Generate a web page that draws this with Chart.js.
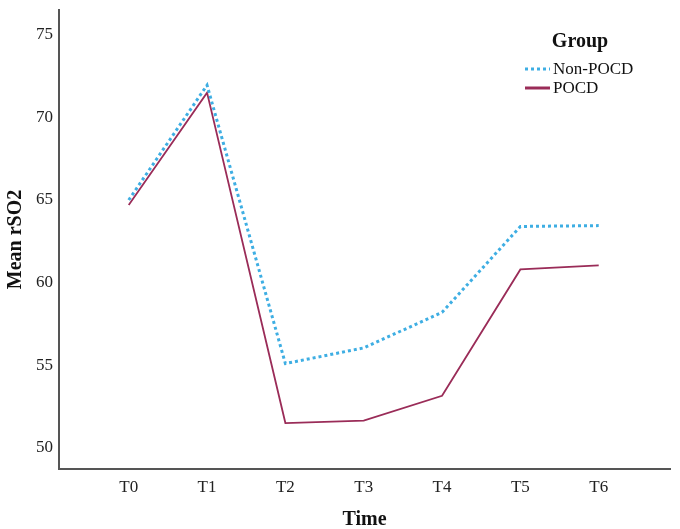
<!DOCTYPE html>
<html>
<head>
<meta charset="utf-8">
<script src="https://cdn.jsdelivr.net/npm/chart.js@4"></script>
<style>
  html, body { margin: 0; padding: 0; background: #fff; }
  #wrap { width: 680px; height: 529px; }
</style>
</head>
<body>
<div id="wrap"><canvas id="rso2Chart"></canvas></div>
<script>
const categories = ['T0', 'T1', 'T2', 'T3', 'T4', 'T5', 'T6'];
const nonPocd = [65.0, 71.95, 55.1, 56.05, 58.2, 63.4, 63.45];
const pocd = [64.7, 71.5, 51.5, 51.65, 53.15, 60.8, 61.05];
const yTicks = [50, 55, 60, 65, 70, 75];

const serif = '"Liberation Serif", "Times New Roman", serif';

// legend in the upper right, drawn by hand like the original figure
const groupLegend = {
    id: 'groupLegend',
    afterDraw(chart) {
        const ctx = chart.ctx;
        ctx.save();
        ctx.fillStyle = '#111';
        ctx.textBaseline = 'middle';
        ctx.font = 'bold 20px ' + serif;
        ctx.textAlign = 'center';
        ctx.fillText('Group', 580, 42);

        const items = [
            { label: 'Non-POCD', color: '#3eaee3', dash: [3, 3], width: 3, y: 69 },
            { label: 'POCD', color: '#9a2c58', dash: [], width: 3, y: 88 }
        ];
        ctx.font = '17px ' + serif;
        ctx.textAlign = 'left';
        items.forEach(it => {
            ctx.beginPath();
            ctx.setLineDash(it.dash);
            ctx.strokeStyle = it.color;
            ctx.lineWidth = it.width;
            ctx.moveTo(525, it.y);
            ctx.lineTo(550, it.y);
            ctx.stroke();
            ctx.fillText(it.label, 553, it.y + 1);
        });
        ctx.restore();
    }
};

const ctx = document.getElementById('rso2Chart').getContext('2d');
const rso2Chart = new Chart(ctx, {
    type: 'line',
    data: {
        datasets: [{
            label: 'Non-POCD',
            data: nonPocd.map((v, i) => ({ x: i, y: v })),
            borderColor: '#3eaee3',
            borderWidth: 3,
            borderDash: [3, 3],
            pointRadius: 0,
            tension: 0
        }, {
            label: 'POCD',
            data: pocd.map((v, i) => ({ x: i, y: v })),
            borderColor: '#9a2c58',
            borderWidth: 1.8,
            pointRadius: 0,
            tension: 0
        }]
    },
    options: {
        responsive: true,
        maintainAspectRatio: false,
        animation: false,
        layout: {
            padding: { top: 10, right: 10, left: 0, bottom: 0 }
        },
        scales: {
            x: {
                type: 'linear',
                min: -0.89,
                max: 6.91,
                afterBuildTicks: scale => {
                    scale.ticks = categories.map((c, i) => ({ value: i }));
                },
                afterFit: scale => {
                    scale.height = 60;
                    scale.paddingLeft = 0;
                    scale.paddingRight = 0;
                },
                grid: { display: false, drawTicks: false },
                border: { color: '#555', width: 2 },
                ticks: {
                    padding: 8,
                    color: '#222',
                    font: { family: serif, size: 17 },
                    callback: v => categories[v]
                },
                title: {
                    display: true,
                    text: 'Time',
                    color: '#111',
                    font: { family: serif, size: 20, weight: 'bold' },
                    padding: { top: 22, bottom: -3 }
                }
            },
            y: {
                min: 48.72,
                max: 76.5,
                afterBuildTicks: scale => {
                    scale.ticks = yTicks.map(v => ({ value: v }));
                },
                afterFit: scale => {
                    scale.width = 59;
                    scale.paddingTop = 0;
                    scale.paddingBottom = 0;
                },
                grid: { display: false, drawTicks: false },
                border: { color: '#555', width: 2 },
                ticks: {
                    padding: 6,
                    color: '#222',
                    font: { family: serif, size: 17 }
                },
                title: {
                    display: true,
                    text: 'Mean rSO2',
                    color: '#111',
                    font: { family: serif, size: 20, weight: 'bold' },
                    padding: { bottom: 4 }
                }
            }
        },
        plugins: {
            legend: { display: false },
            tooltip: { enabled: false }
        }
    },
    plugins: [groupLegend]
});
</script>
</body>
</html>
